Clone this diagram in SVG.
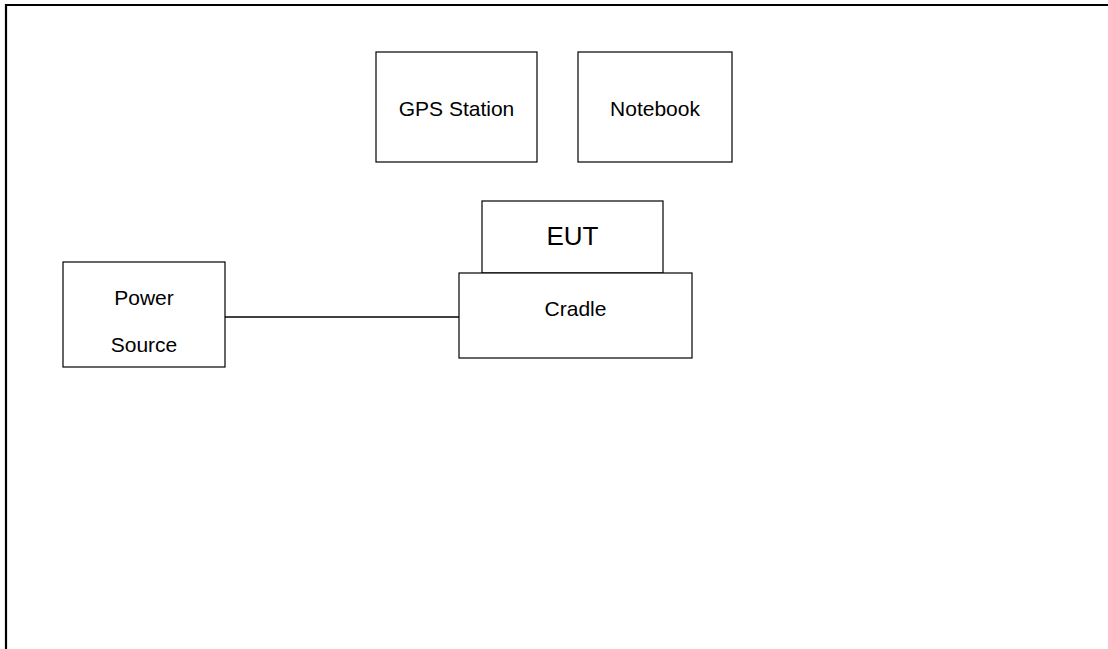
<svg xmlns="http://www.w3.org/2000/svg" width="1108" height="649" viewBox="0 0 1108 649">
<style>
.box{fill:#fff;stroke:#000;stroke-width:1.2}
.t{font-family:"Liberation Sans",Arial,sans-serif;font-size:21px;fill:#000;text-anchor:middle}
.big{font-size:26px}
.conn{stroke:#000;stroke-width:1.5;fill:none}
</style>
<rect width="1108" height="649" fill="#fff"/>
<path d="M6,649 V5 H1108" fill="none" stroke="#000" stroke-width="2.2"/>
<g id="connectors">
<line class="conn" x1="225" y1="317" x2="459" y2="317"/>
</g>
<g id="gps">
<rect class="box" x="376" y="52" width="161" height="110"/>
<text class="t" x="456.5" y="116">GPS Station</text>
</g>
<g id="notebook">
<rect class="box" x="578" y="52" width="154" height="110"/>
<text class="t" x="655" y="116">Notebook</text>
</g>
<g id="eut">
<rect class="box" x="482" y="201" width="181" height="72"/>
<text class="t big" x="572.5" y="245">EUT</text>
</g>
<g id="cradle">
<rect class="box" x="459" y="273" width="233" height="85"/>
<text class="t" x="575.5" y="316">Cradle</text>
</g>
<g id="power">
<rect class="box" x="63" y="262" width="162" height="105"/>
<text class="t" x="144" y="305">Power</text>
<text class="t" x="144" y="352">Source</text>
</g>
</svg>
